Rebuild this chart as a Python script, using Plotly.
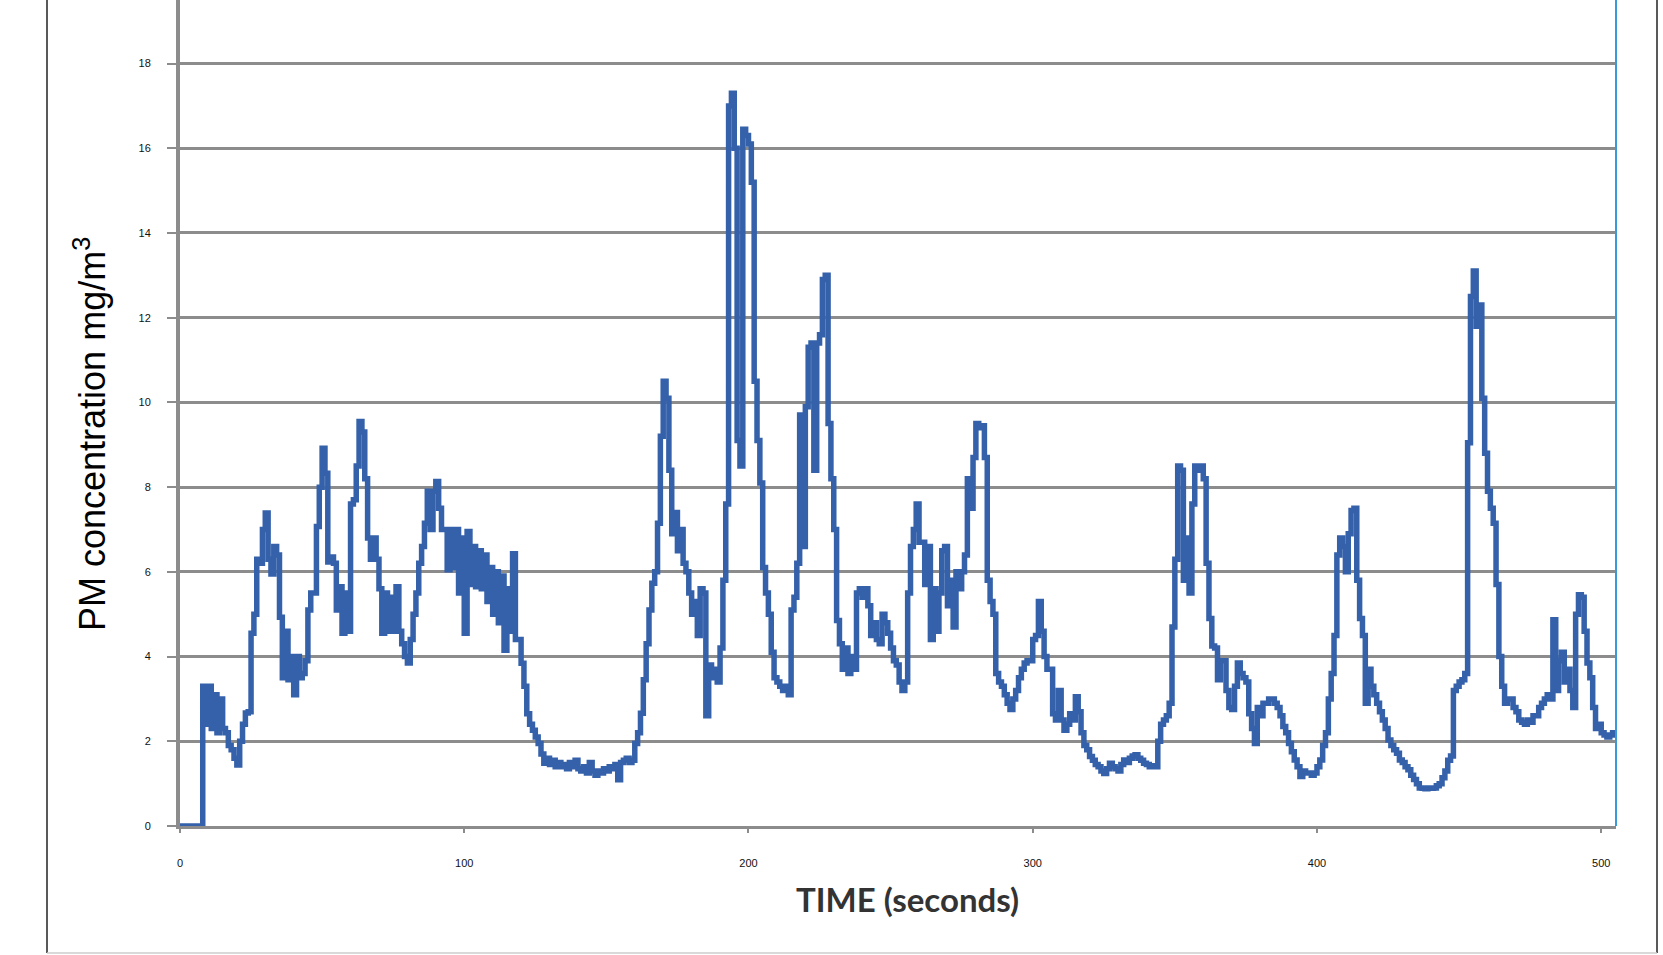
import plotly.graph_objects as go

# Time axis (seconds), one sample per second
TIME = list(range(0, 506))

# PM concentration (mg/m3)
PM = [
    0, 0, 0, 0, 0, 0, 0, 0, 3.3, 2.4,
    3.3, 2.3, 3.1, 2.2, 3.0, 2.3, 2.2, 1.9, 1.8, 1.6,
    1.44, 2.0, 2.4, 2.67, 2.7, 4.55, 5.0, 6.3, 6.2, 7.0,
    7.39, 6.3, 5.95, 6.6, 6.4, 4.93, 3.5, 4.6, 3.45, 4.0,
    3.1, 4.0, 3.5, 3.6, 3.9, 5.1, 5.5, 5.5, 7.07, 8.0,
    8.92, 8.33, 6.23, 6.35, 6.2, 5.1, 5.65, 4.55, 5.5, 4.6,
    7.6, 7.7, 8.5, 9.55, 9.3, 8.2, 6.8, 6.3, 6.8, 6.3,
    5.6, 4.55, 5.5, 4.6, 5.4, 4.6, 5.65, 4.6, 4.3, 4.0,
    3.85, 4.4, 5.0, 5.5, 6.2, 6.6, 7.15, 7.9, 7.0, 7.9,
    8.13, 7.5, 7.0, 7.0, 6.05, 7.0, 6.1, 7.0, 5.5, 6.8,
    4.55, 6.95, 5.7, 6.6, 5.65, 6.5, 5.6, 6.4, 5.3, 6.1,
    5.0, 6.0, 4.8, 5.9, 4.15, 5.6, 4.6, 6.43, 4.4, 4.4,
    3.84, 3.3, 2.65, 2.4, 2.26, 2.1, 1.95, 1.7, 1.48, 1.6,
    1.45, 1.55, 1.4, 1.5, 1.4, 1.45, 1.35, 1.5, 1.4, 1.55,
    1.35, 1.3, 1.4, 1.25, 1.5, 1.3, 1.2, 1.3, 1.25, 1.35,
    1.3, 1.4, 1.35, 1.45, 1.09, 1.5, 1.55, 1.6, 1.5, 1.55,
    1.95, 2.2, 2.66, 3.45, 4.3, 5.1, 5.73, 6.0, 7.15, 9.2,
    10.5, 10.1, 8.4, 6.9, 7.4, 6.5, 7.0, 6.2, 6.0, 5.5,
    5.0, 5.3, 4.5, 5.6, 5.5, 2.6, 3.8, 3.5, 3.7, 3.4,
    4.2, 5.8, 7.6, 17.0, 17.3, 16.0, 9.1, 8.5, 16.45, 16.3,
    16.1, 15.2, 10.5, 9.1, 8.1, 6.1, 5.5, 5.0, 4.1, 3.5,
    3.4, 3.3, 3.2, 3.3, 3.1, 5.1, 5.4, 6.2, 9.7, 6.6,
    9.9, 11.3, 11.4, 8.4, 11.4, 11.6, 12.9, 13.0, 9.5, 8.2,
    7.0, 4.85, 4.3, 3.7, 4.2, 3.6, 4.0, 3.7, 5.5, 5.6,
    5.4, 5.6, 5.2, 4.5, 4.8, 4.4, 4.3, 5.0, 4.8, 4.55,
    4.2, 3.9, 3.8, 3.4, 3.2, 3.4, 5.5, 6.6, 7.0, 7.6,
    6.7, 6.7, 5.7, 6.6, 4.4, 5.6, 4.6, 5.5, 6.5, 6.6,
    5.2, 5.8, 4.7, 6.0, 5.6, 6.0, 6.4, 8.2, 7.5, 8.7,
    9.5, 9.4, 9.45, 8.7, 5.8, 5.3, 5.0, 3.6, 3.4, 3.3,
    3.1, 2.9, 2.75, 3.0, 3.2, 3.5, 3.7, 3.85, 3.9, 3.9,
    4.4, 4.5, 5.3, 4.6, 4.0, 3.7, 3.7, 2.65, 2.5, 3.2,
    2.5, 2.26, 2.4, 2.65, 2.5, 3.05, 2.7, 2.2, 1.9, 1.8,
    1.64, 1.55, 1.45, 1.4, 1.3, 1.24, 1.35, 1.48, 1.4, 1.35,
    1.3, 1.45, 1.56, 1.5, 1.6, 1.65, 1.68, 1.6, 1.55, 1.48,
    1.45, 1.4, 1.42, 1.4, 2.0, 2.4, 2.5, 2.6, 2.9, 4.7,
    6.3, 8.5, 8.4, 5.8, 6.8, 5.5, 7.6, 8.5, 8.4, 8.5,
    8.2, 6.2, 4.9, 4.25, 4.2, 3.45, 3.9, 3.9, 3.2, 2.8,
    2.75, 3.3, 3.85, 3.6, 3.5, 3.4, 2.65, 2.3, 1.95, 2.8,
    2.6, 2.9, 2.9, 3.0, 3.0, 2.9, 2.8, 2.6, 2.35, 2.2,
    1.95, 1.75, 1.56, 1.4, 1.17, 1.3, 1.25, 1.25, 1.2, 1.25,
    1.4, 1.56, 1.9, 2.2, 3.0, 3.6, 4.5, 6.4, 6.8, 6.6,
    6.0, 6.9, 7.45, 7.5, 5.8, 4.9, 4.5, 2.9, 3.7, 3.3,
    3.1, 2.9, 2.7, 2.5, 2.3, 2.03, 1.9, 1.8, 1.72, 1.56,
    1.5, 1.4, 1.33, 1.2, 1.1, 1.0, 0.9, 0.89, 0.88, 0.9,
    0.89, 0.9, 0.95, 1.0, 1.14, 1.3, 1.55, 1.65, 3.2, 3.3,
    3.4, 3.45, 3.6, 9.05, 12.5, 13.1, 11.8, 12.3, 10.1, 8.8,
    7.9, 7.5, 7.15, 5.7, 4.0, 3.3, 2.9, 3.0, 3.0, 2.8,
    2.7, 2.5, 2.45, 2.4, 2.5, 2.45, 2.6, 2.6, 2.8, 2.9,
    3.0, 3.1, 3.0, 4.87, 3.2, 3.9, 4.1, 3.4, 3.7, 3.2,
    2.8, 5.0, 5.46, 5.4, 4.6, 3.85, 3.5, 2.8, 2.3, 2.4,
    2.2, 2.15, 2.1, 2.15, 2.2, 2.25,
]

X_TICKS = [0, 100, 200, 300, 400, 500]
Y_TICKS = [0, 2, 4, 6, 8, 10, 12, 14, 16, 18]
X_TITLE = "<b>TIME (seconds)</b>"
Y_TITLE = "PM concentration mg/m<sup>3</sup>"

GRID = "#8c8c8c"
LINE = "#3461aa"

FIG_W, FIG_H = 1663, 955
L, R, T, B = 180, 47, 0, 129
PW = FIG_W - L - R   # plot width
PH = FIG_H - T - B   # plot height


def px(xpage):
    return (xpage - L) / PW


def py(ypage):
    return (FIG_H - B - ypage) / PH


fig = go.Figure()
fig.add_trace(go.Scatter(
    x=TIME, y=PM, mode="lines",
    line=dict(color=LINE, width=5.5, shape="hv"),
    hoverinfo="skip", showlegend=False, cliponaxis=False,
))

fig.update_layout(
    width=FIG_W, height=FIG_H,
    margin=dict(l=L, r=R, t=T, b=B),
    paper_bgcolor="white", plot_bgcolor="white",
    font=dict(family="Liberation Sans, Arial, sans-serif", color="#111"),
    xaxis=dict(
        range=[0, 505.2], tickvals=X_TICKS, ticktext=[str(v) for v in X_TICKS],
        showgrid=False, zeroline=False,
        showline=True, linecolor=GRID, linewidth=3,
        ticks="outside", ticklen=4, tickwidth=2, tickcolor=GRID,
        tickfont=dict(size=11, color="#111"), ticklabelstandoff=21,
    ),
    yaxis=dict(
        range=[0, 19.5], tickvals=Y_TICKS, ticktext=[str(v) for v in Y_TICKS],
        showgrid=True, gridcolor=GRID, gridwidth=3,
        zeroline=False,
        showline=True, linecolor=GRID, linewidth=4,
        ticks="outside", ticklen=9, tickwidth=2, tickcolor=GRID,
        tickfont=dict(size=11, color="#111"), ticklabelstandoff=14,
    ),
    annotations=[
        dict(text=X_TITLE, xref="paper", yref="paper",
             x=px(907), y=py(899),
             xanchor="center", yanchor="middle", showarrow=False,
             font=dict(family="Lato, Open Sans, sans-serif", size=33, color="#333")),
        dict(text=Y_TITLE, xref="paper", yref="paper",
             x=px(90), y=py(434),
             xanchor="center", yanchor="middle", showarrow=False, textangle=-90,
             font=dict(family="Liberation Sans, Arial, sans-serif", size=36, color="#000")),
    ],
    shapes=[
        # outer frame (left, right, bottom)
        dict(type="line", xref="paper", yref="paper",
             x0=px(47), x1=px(47), y0=py(0), y1=py(953),
             line=dict(color="#222", width=1.5)),
        dict(type="line", xref="paper", yref="paper",
             x0=px(1657), x1=px(1657), y0=py(0), y1=py(953),
             line=dict(color="#222", width=1.5)),
        dict(type="line", xref="paper", yref="paper",
             x0=px(47), x1=px(1657), y0=py(953), y1=py(953),
             line=dict(color="#cccccc", width=1.5)),
        # blue right border of plot area
        dict(type="line", xref="paper", yref="paper",
             x0=1, x1=1, y0=0, y1=1,
             line=dict(color="#3a9ad9", width=2)),
    ],
)

# remove the browser's default 8px page margin so the figure sits at (0, 0)
fig.write_html("out.html", config={"displayModeBar": False},
               post_script="document.body.style.margin='0';")
